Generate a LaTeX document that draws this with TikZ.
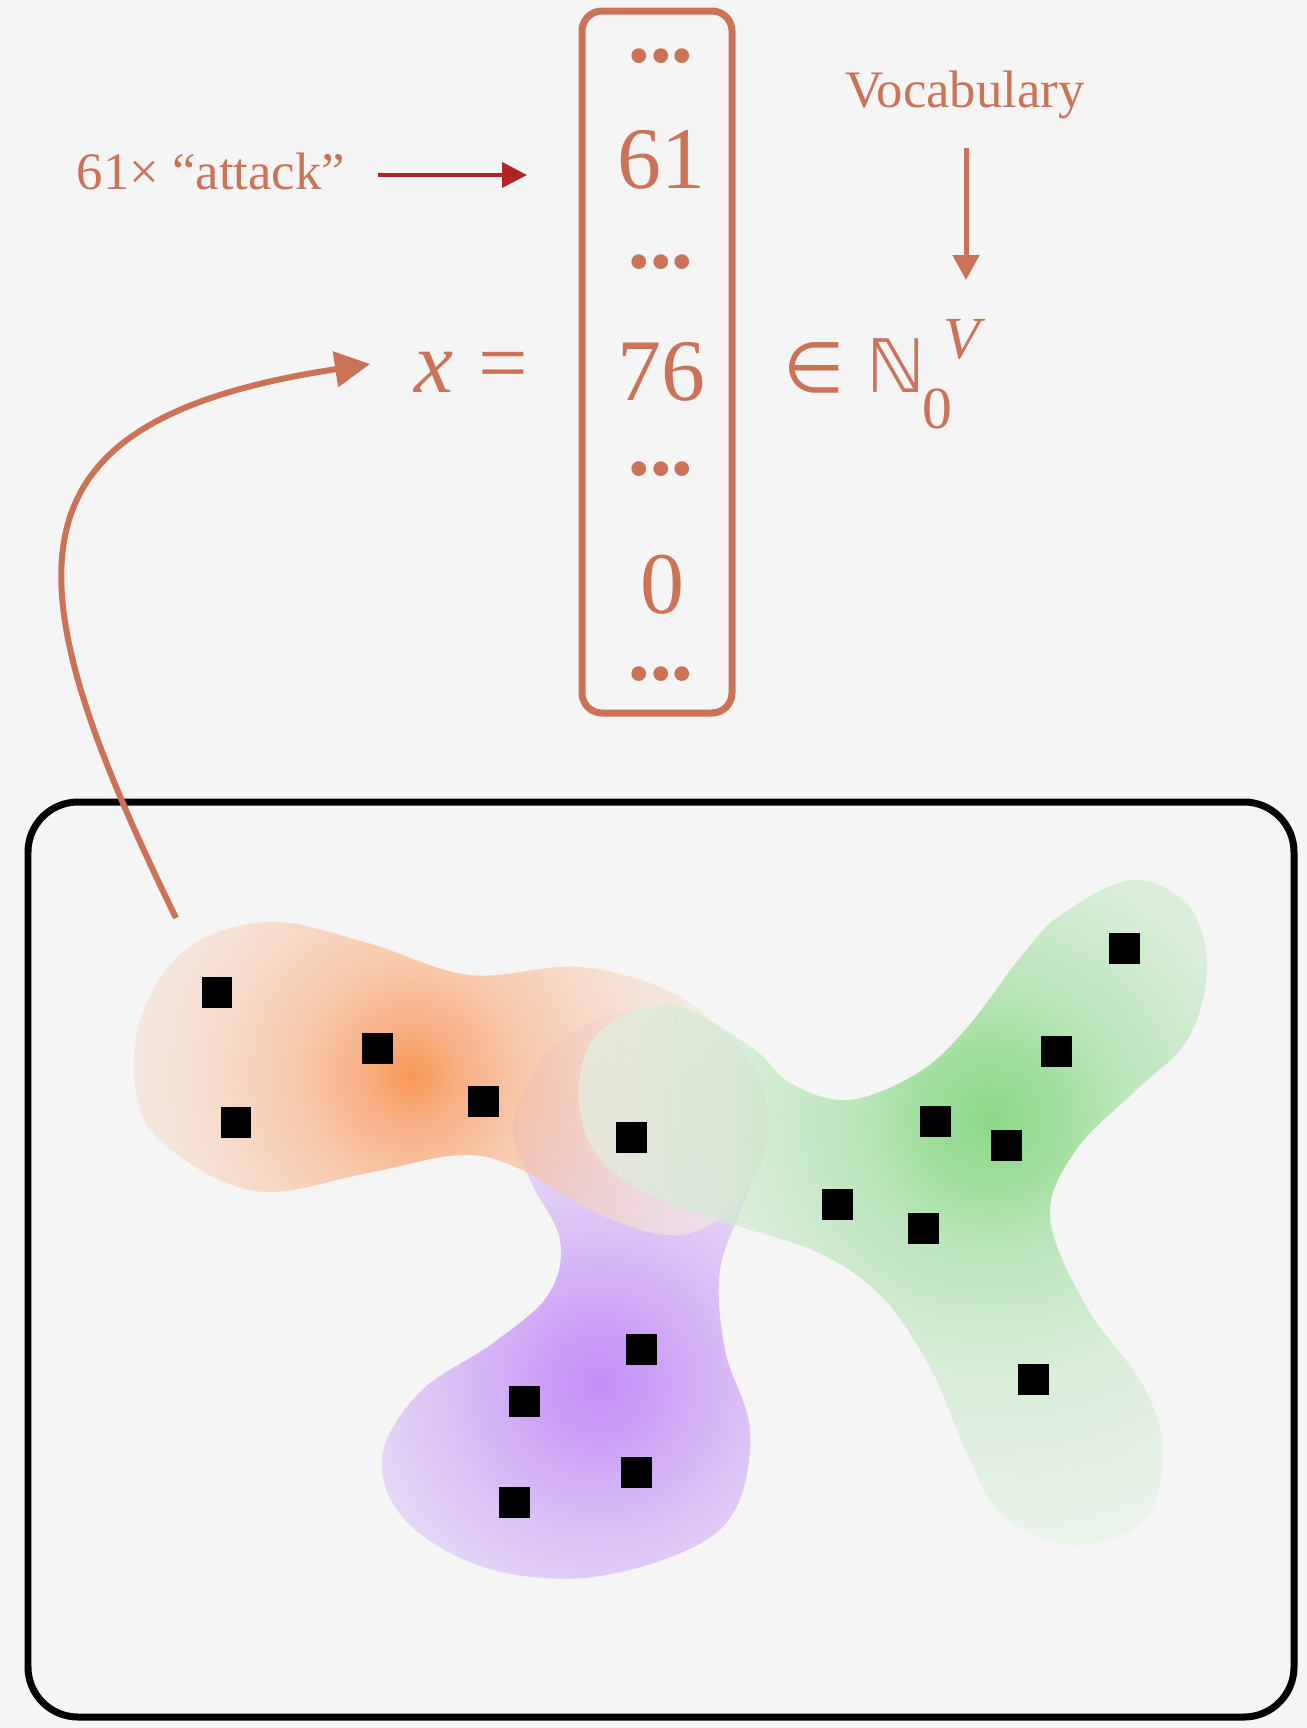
\documentclass[tikz,border=0pt]{standalone}
\usepackage{fontspec}
\setmainfont{Liberation Serif}
\newfontfamily\djv{DejaVu Sans}
\usetikzlibrary{arrows.meta}
\definecolor{terra}{RGB}{204,115,87}
\definecolor{redarrow}{RGB}{176,38,38}
\definecolor{bgcol}{RGB}{245,245,245}
\definecolor{oc0}{RGB}{251,102,0}
\definecolor{oc1}{RGB}{251,142,76}
\definecolor{oc2}{RGB}{250,180,137}
\definecolor{oc3}{RGB}{246,214,194}
\definecolor{oc4}{RGB}{245,231,222}
\definecolor{pc0}{RGB}{170,87,247}
\definecolor{pc1}{RGB}{183,119,247}
\definecolor{pc2}{RGB}{206,168,247}
\definecolor{pc3}{RGB}{225,210,247}
\definecolor{pc4}{RGB}{233,223,247}
\definecolor{gc0}{RGB}{87,202,80}
\definecolor{gc1}{RGB}{111,210,107}
\definecolor{gc2}{RGB}{157,222,156}
\definecolor{gc3}{RGB}{203,234,202}
\definecolor{gc4}{RGB}{228,242,228}
\pgfdeclareradialshading{orangesh}{\pgfpoint{0bp}{0bp}}{color(0bp)=(oc0); color(3.25bp)=(oc1); color(7.3bp)=(oc2); color(13.8bp)=(oc3); color(19.5bp)=(oc4); color(50bp)=(oc4)}
\pgfdeclareradialshading{purplesh}{\pgfpoint{0bp}{0bp}}{color(0bp)=(pc0); color(4bp)=(pc1); color(9.75bp)=(pc2); color(16.25bp)=(pc3); color(21.1bp)=(pc4); color(50bp)=(pc4)}
\pgfdeclareradialshading{greensh}{\pgfpoint{0bp}{0bp}}{color(0bp)=(gc0); color(3.4bp)=(gc1); color(7.3bp)=(gc2); color(14.6bp)=(gc3); color(23.3bp)=(gc4); color(50bp)=(gc4)}
\tikzset{
  tc/.style={text=terra, inner sep=0pt, outer sep=0pt},
  num/.style={tc, font=\fontsize{50}{60}\selectfont, anchor=base},
  dotrow/.style={tc, font=\fontsize{35}{40}\selectfont, anchor=center},
  pt/.style={fill=black, draw=none, inner sep=0pt, minimum size=0.62cm},
  frame/.style={draw=black, line width=0.14cm, rounded corners=1cm},
  vecbox/.style={draw=terra, line width=0.14cm, rounded corners=0.4cm},
  redarr/.style={draw=redarrow, line width=0.08cm, -{Triangle[length=0.5cm,width=0.5cm]}},
  vocarr/.style={draw=terra, line width=0.1cm, -{Triangle[length=0.5cm,width=0.52cm]}},
  curvarr/.style={draw=terra, line width=0.12cm, -{Triangle[length=0.7cm,width=0.7cm]}},
  blobop/.style={opacity=0.65}
}
\begin{document}
\begin{tikzpicture}[x=0.02cm, y=-0.02cm]
\useasboundingbox[fill=bgcol] (0,0) rectangle (1307,1728);

% frame
\draw[frame] (28,802) rectangle (1294,1717);

% purple blob
\begin{scope}
\clip plot[smooth cycle, tension=0.6] coordinates {(513,1125) (545,1055) (610,1015) (690,1012) (750,1060) (768,1130) (745,1200) (720,1270) (725,1350) (750,1430) (735,1510) (683,1552) (583,1578) (483,1567) (405,1520) (382,1457) (420,1392) (493,1343) (548,1295) (560,1240) (530,1180)};
\shade[shading=purplesh, blobop] (598,1383) circle[radius=8cm];
\end{scope}

% orange blob
\begin{scope}
\clip plot[smooth cycle, tension=0.6] coordinates {(272,922) (368,943) (470,975) (582,967) (680,997) (745,1060) (768,1130) (740,1200) (680,1235) (600,1215) (522,1170) (462,1155) (368,1173) (265,1192) (189,1163) (140,1110) (140,1020) (189,947)};
\shade[shading=orangesh, blobop] (411,1075) circle[radius=8cm];
\end{scope}

% green blob
\begin{scope}
\clip plot[smooth cycle, tension=0.6] coordinates {(1132,880) (1188,905) (1207,967) (1188,1039) (1134,1092) (1076,1150) (1050,1217) (1086,1306) (1144,1387) (1163,1454) (1144,1521) (1076,1545) (1003,1516) (965,1449) (931,1369) (882,1297) (819,1253) (732,1224) (640,1190) (591,1146) (579,1083) (601,1030) (669,1004) (751,1047) (790,1083) (848,1100) (916,1074) (965,1030) (1023,954) (1062,914)};
\shade[shading=greensh, blobop] (990,1118) circle[radius=9cm];
\end{scope}

% points
\node[pt] (o1) at (217,992) {};
\node[pt] (o2) at (377,1048) {};
\node[pt] (o3) at (236,1122) {};
\node[pt] (o4) at (483,1101) {};
\node[pt] (o5) at (631,1137) {};
\node[pt] (g1) at (1124,948) {};
\node[pt] (g2) at (1056,1051) {};
\node[pt] (g3) at (935,1121) {};
\node[pt] (g4) at (1006,1145) {};
\node[pt] (g5) at (837,1204) {};
\node[pt] (g6) at (923,1228) {};
\node[pt] (g7) at (1033,1379) {};
\node[pt] (p1) at (641,1349) {};
\node[pt] (p2) at (524,1401) {};
\node[pt] (p3) at (636,1472) {};
\node[pt] (p4) at (514,1502) {};

% vector box
\draw[vecbox] (582,11) rectangle (732,713);
\node[dotrow] (d1) at (661,63) {•••};
\node[num] (n61) at (661,188) {61};
\node[dotrow] (d2) at (661,269) {•••};
\node[num] (n76) at (661,400) {76};
\node[dotrow] (d3) at (661,476) {•••};
\node[num] (n0) at (662,613) {0};
\node[dotrow] (d4) at (661,681) {•••};

% x = and membership
\node[tc, font=\fontsize{50}{60}\selectfont, anchor=base east] (xeq) at (528,392) {\textit{x}\kern0.5cm=};
\node[tc, font=\fontsize{40}{48}\selectfont\djv, anchor=base west] (elem) at (783,392) {∈};
\node[tc, font=\fontsize{42}{50}\selectfont\djv, anchor=base west] (nat) at (866,392) {ℕ};
\node[tc, font=\fontsize{34}{40}\selectfont, anchor=base west] (sub0) at (922,428) {0};
\node[tc, font=\fontsize{34}{40}\selectfont\itshape, anchor=base west] (supV) at (943,358) {V};

% labels
\node[tc, font=\fontsize{30}{36}\selectfont, anchor=base] (vocab) at (965,107) {Vocabulary};
\node[tc, font=\fontsize{30}{36}\selectfont, anchor=base east] (attack) at (345,189) {61× “attack”};

% arrows
\coordinate (ra0) at (378,175);
\coordinate (ra1) at (527,175);
\draw[redarr] (ra0) -- (ra1);
\coordinate (va0) at (966,148);
\coordinate (va1) at (966,280);
\draw[vocarr] (va0) -- (va1);
\coordinate (cs) at (176,918);
\coordinate (ce) at (370,364);
\draw[curvarr] (cs) .. controls (9,576) and (-6,421) .. (ce);
\end{tikzpicture}
\end{document}
